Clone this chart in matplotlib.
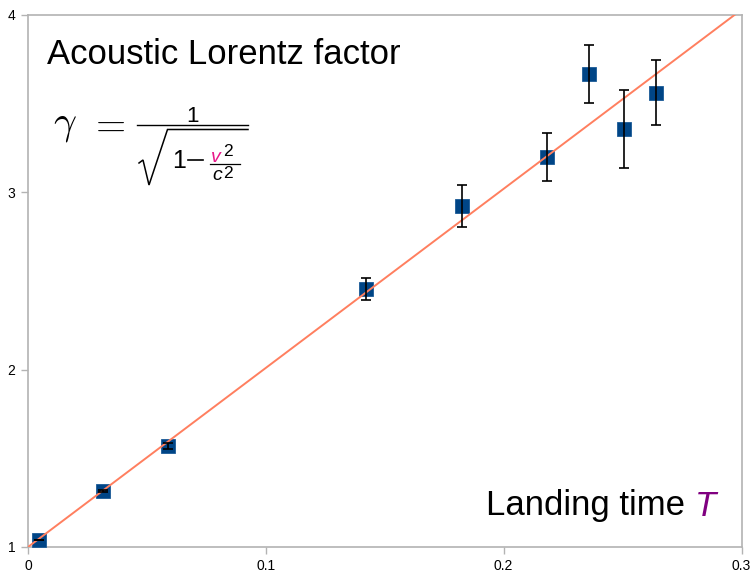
import matplotlib
matplotlib.use("Agg")
import matplotlib.pyplot as plt
from matplotlib.lines import Line2D
from matplotlib import font_manager

# ---- data ----
landing_time = [0.0046, 0.0315, 0.0589, 0.1421, 0.1825, 0.2181, 0.2359, 0.2508, 0.2641]
gamma_vals = [1.04, 1.316, 1.57, 2.455, 2.923, 3.20, 3.667, 3.357, 3.561]
gamma_err = [0.0, 0.005, 0.017, 0.06, 0.12, 0.135, 0.165, 0.22, 0.183]
fit_x = [0.0, 0.3]
fit_y = [1.0, 4.03]
x_ticks = [0, 0.1, 0.2, 0.3]
x_tick_labels = ["0", "0.1", "0.2", "0.3"]
y_ticks = [1, 2, 3, 4]
y_tick_labels = ["1", "2", "3", "4"]

W, H = 755, 575
fig = plt.figure(figsize=(W / 100, H / 100), dpi=100)
fig.patch.set_facecolor("white")

L, R, T, B = 28, 741.5, 15, 547
ax = fig.add_axes([L / W, 1 - B / H, (R - L) / W, (B - T) / H])
ax.set_xlim(0, 0.3)
ax.set_ylim(1, 4)

names = {f.name for f in font_manager.fontManager.ttflist}
tick_font = "Liberation Sans Narrow" if "Liberation Sans Narrow" in names else "Liberation Sans"
sans = "Liberation Sans"

grey = "#b3b3b3"
for s in ax.spines.values():
    s.set_color(grey)
    s.set_linewidth(1.2)
ax.set_xticks(x_ticks)
ax.set_xticklabels(x_tick_labels, fontfamily=tick_font, fontsize=10)
ax.set_yticks(y_ticks)
ax.set_yticklabels(y_tick_labels, fontfamily=tick_font, fontsize=10)
ax.tick_params(axis="both", direction="out", length=5, width=1, color=grey,
               labelcolor="black")
ax.tick_params(axis="x", pad=4)
ax.tick_params(axis="y", pad=4)

# markers, fit line, error bars
ax.plot(landing_time, gamma_vals, linestyle="none", marker="s", markersize=9.5,
        color="#004586", mec="#1a5a96", mew=0.6, zorder=3)
ax.plot(fit_x, fit_y, color="#ff7f5f", linewidth=1.4, zorder=4, clip_on=True)
ax.errorbar(landing_time, gamma_vals, yerr=gamma_err, fmt="none", ecolor="black",
            elinewidth=1.2, capsize=3.5, capthick=1.2, zorder=5)


def fx(x):
    return x / W


def fy(y):
    return 1 - y / H


# title text
fig.text(fx(47), fy(64), "Acoustic Lorentz factor", fontfamily=sans,
         fontsize=25, color="black", va="baseline", ha="left")

# formula: gamma = 1 / sqrt(1 - v^2/c^2)
fig.text(fx(53), fy(133), r"$\gamma$", math_fontfamily="cm", fontsize=29,
         va="baseline", ha="left")
fig.text(fx(89), fy(136), r"$=$", math_fontfamily="cm", fontsize=28,
         va="baseline", ha="left")
fig.add_artist(Line2D([fx(137), fx(248)], [fy(125), fy(125)], color="black", lw=1.0))
fig.text(fx(192), fy(122), "1", fontfamily=sans, fontsize=16,
         va="baseline", ha="center")
# radical sign
fig.add_artist(Line2D([fx(139), fx(143), fx(149), fx(167.5), fx(248)],
                      [fy(163), fy(160), fy(185), fy(129.5), fy(129.5)],
                      color="black", lw=1.1, solid_joinstyle="miter"))
fig.text(fx(172), fy(167.5), "1", fontfamily=sans, fontsize=18,
         va="baseline", ha="left")
# minus sign
fig.add_artist(Line2D([fx(188), fx(203)], [fy(160), fy(160)], color="black", lw=1.2))
fig.text(fx(211), fy(162), "v", fontfamily=sans, fontstyle="italic",
         fontsize=14, color="#e8188a", va="baseline", ha="left")
fig.text(fx(223), fy(155.5), "2", fontfamily=sans, fontsize=12.5,
         va="baseline", ha="left")
fig.add_artist(Line2D([fx(210), fx(240)], [fy(164), fy(164)], color="black", lw=0.9))
fig.text(fx(212), fy(180.5), "c", fontfamily=sans, fontstyle="italic",
         fontsize=14, color="black", va="baseline", ha="left")
fig.text(fx(223), fy(177.5), "2", fontfamily=sans, fontsize=12.5,
         va="baseline", ha="left")

# Landing time T
t1 = fig.text(fx(486), fy(515.5), "Landing time ", fontfamily=sans, fontsize=25,
              color="black", va="baseline", ha="left")
fig.canvas.draw()
r = fig.canvas.get_renderer()
bb = t1.get_window_extent(r)
fig.text(bb.x1 / W, fy(515.5), "T", fontfamily=sans, fontsize=25, fontstyle="italic",
         color="#800080", va="baseline", ha="left")

fig.savefig("out.png", dpi=100)
